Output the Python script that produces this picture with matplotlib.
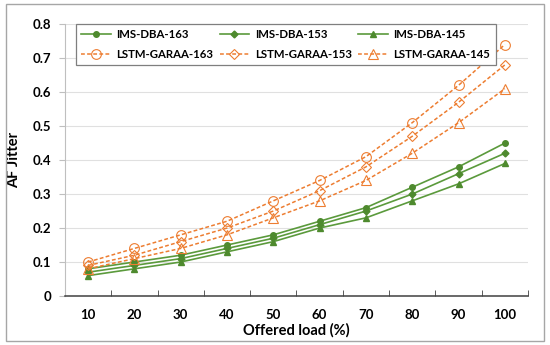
import numpy as np
import matplotlib
matplotlib.use("Agg")
import matplotlib.pyplot as plt
from matplotlib.patches import Rectangle

plt.rcParams['font.family'] = ['Lato', 'DejaVu Sans']

# data
loads = [10, 20, 30, 40, 50, 60, 70, 80, 90, 100]
ims_163 = [0.08, 0.10, 0.12, 0.15, 0.18, 0.22, 0.26, 0.32, 0.38, 0.45]
ims_153 = [0.07, 0.09, 0.11, 0.14, 0.17, 0.21, 0.25, 0.30, 0.36, 0.42]
ims_145 = [0.06, 0.08, 0.10, 0.13, 0.16, 0.20, 0.23, 0.28, 0.33, 0.39]
lstm_163 = [0.10, 0.14, 0.18, 0.22, 0.28, 0.34, 0.41, 0.51, 0.62, 0.74]
lstm_153 = [0.09, 0.12, 0.16, 0.20, 0.25, 0.31, 0.38, 0.47, 0.57, 0.68]
lstm_145 = [0.08, 0.11, 0.14, 0.18, 0.23, 0.28, 0.34, 0.42, 0.51, 0.61]
y_ticks = [0, 0.1, 0.2, 0.3, 0.4, 0.5, 0.6, 0.7, 0.8]

green = '#5B9A3C'
green_mk = '#4E8A2E'
orange = '#ED7D31'

fig = plt.figure(figsize=(5.5, 3.45), dpi=100)
ax = fig.add_axes([0.118, 0.142, 0.842, 0.788])

# outer chart border
fig.patches.append(Rectangle((6/550, 1-341/345), 538/550, 337/345, transform=fig.transFigure,
                             fill=False, edgecolor='#A6A6A6', linewidth=1.0))

x = np.arange(len(loads))
h = {}
h['i163'], = ax.plot(x, ims_163, color=green, lw=1.2, marker='o', ms=4,
                     mfc=green_mk, mec=green_mk, label='IMS-DBA-163')
h['i153'], = ax.plot(x, ims_153, color=green, lw=1.2, marker='D', ms=3.5,
                     mfc=green_mk, mec=green_mk, label='IMS-DBA-153')
h['i145'], = ax.plot(x, ims_145, color=green, lw=1.2, marker='^', ms=4.5,
                     mfc=green_mk, mec=green_mk, label='IMS-DBA-145')
h['l163'], = ax.plot(x, lstm_163, color=orange, lw=1.1, ls=(0, (2.5, 1.5)), marker='o', ms=7,
                     mfc='none', mec=orange, mew=0.8, label='LSTM-GARAA-163')
h['l153'], = ax.plot(x, lstm_153, color=orange, lw=1.1, ls=(0, (2.5, 1.5)), marker='D', ms=5.5,
                     mfc='none', mec=orange, mew=0.8, label='LSTM-GARAA-153')
h['l145'], = ax.plot(x, lstm_145, color=orange, lw=1.1, ls=(0, (2.5, 1.5)), marker='^', ms=7,
                     mfc='none', mec=orange, mew=0.8, label='LSTM-GARAA-145')

ax.set_xlim(-0.5, len(loads) - 0.5)
ax.set_ylim(0, 0.8)
ax.set_yticks(y_ticks)
ax.set_yticklabels(['0' if v == 0 else f'{v:.1f}' for v in y_ticks],
                   fontsize=9.5, fontweight='bold')
ax.set_xticks(x)
ax.set_xticklabels([str(v) for v in loads], fontsize=9.5, fontweight='bold')
ax.set_xticks(np.arange(-0.5, len(loads), 1), minor=True)
ax.tick_params(axis='x', which='major', length=0, pad=9)
ax.tick_params(axis='x', which='minor', direction='in', length=4, color='#404040')
ax.tick_params(axis='y', length=4, color='#BFBFBF', pad=6)

ax.grid(axis='y', color='#E0E0E0', lw=0.8)
ax.set_axisbelow(True)
for s in ['top', 'right']:
    ax.spines[s].set_visible(False)
ax.spines['left'].set_color('#BFBFBF')
ax.spines['bottom'].set_color('#404040')
ax.spines['bottom'].set_linewidth(1.1)

ax.set_xlabel('Offered load (%)', fontsize=10.5, fontweight='bold', labelpad=2)
ax.set_ylabel('AF Jitter', fontsize=10.5, fontweight='bold', labelpad=8)

# legend is filled column by column, so interleave to get row order
order = ['i163', 'l163', 'i153', 'l153', 'i145', 'l145']
leg = ax.legend([h[k] for k in order], [h[k].get_label() for k in order],
                ncol=3, loc='upper left', bbox_to_anchor=(76/550, 1-24/345),
                bbox_transform=fig.transFigure, fancybox=False, framealpha=1,
                edgecolor='#7F7F7F', handlelength=2.6,
                columnspacing=0.55, handletextpad=0.5, borderpad=0.45,
                borderaxespad=0, labelspacing=0.8,
                prop={'weight': 'bold', 'size': 8.2})
leg.get_frame().set_linewidth(0.9)

fig.savefig('out.png', dpi=100)
